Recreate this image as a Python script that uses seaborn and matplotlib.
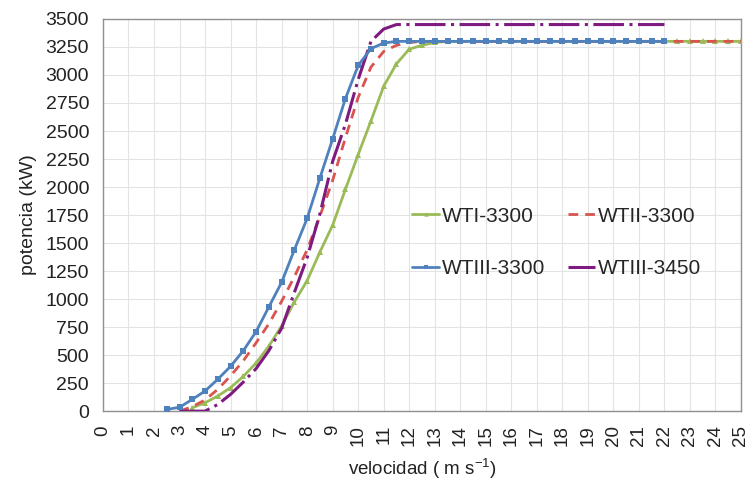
import numpy as np
import pandas as pd
import matplotlib
matplotlib.use("Agg")
import matplotlib.pyplot as plt
import seaborn as sns

# ---- data ----
v_wt1 = [3.5, 4.0, 4.5, 5.0, 5.5, 6.0, 6.5, 7.0, 7.5, 8.0, 8.5, 9.0, 9.5, 10.0, 10.5, 11.0,
         11.5, 12.0, 12.5, 13.0, 13.5, 14.0, 14.5, 15.0, 15.5, 16.0, 16.5, 17.0, 17.5, 18.0,
         18.5, 19.0, 19.5, 20.0, 20.5, 21.0, 21.5, 22.0, 22.5, 23.0, 23.5, 24.0, 24.5, 25.0]
p_wt1 = [30, 75, 135, 210, 310, 430, 580, 760, 975, 1165, 1420, 1660, 1980, 2290, 2590, 2900,
         3100, 3230, 3265, 3290, 3300, 3300, 3300, 3300, 3300, 3300, 3300, 3300, 3300, 3300,
         3300, 3300, 3300, 3300, 3300, 3300, 3300, 3300, 3300, 3300, 3300, 3300, 3300, 3300]

v_wt2 = [3.0, 3.5, 4.0, 4.5, 5.0, 5.5, 6.0, 6.5, 7.0, 7.5, 8.0, 8.5, 9.0, 9.5, 10.0, 10.5,
         11.0, 11.5, 12.0, 12.5, 13.0, 14.0, 15.0, 16.0, 17.0, 18.0, 19.0, 20.0, 21.0, 22.0,
         23.0, 24.0, 25.0]
p_wt2 = [0, 40, 100, 195, 315, 450, 610, 780, 980, 1200, 1440, 1740, 2060, 2440, 2800, 3070,
         3210, 3265, 3290, 3300, 3300, 3300, 3300, 3300, 3300, 3300, 3300, 3300, 3300, 3300,
         3300, 3300, 3300]

v_wt3 = [2.5, 3.0, 3.5, 4.0, 4.5, 5.0, 5.5, 6.0, 6.5, 7.0, 7.5, 8.0, 8.5, 9.0, 9.5, 10.0,
         10.5, 11.0, 11.5, 12.0, 12.5, 13.0, 13.5, 14.0, 14.5, 15.0, 15.5, 16.0, 16.5, 17.0,
         17.5, 18.0, 18.5, 19.0, 19.5, 20.0, 20.5, 21.0, 21.5, 22.0]
p_wt3 = [15, 35, 105, 180, 285, 400, 540, 710, 930, 1150, 1440, 1720, 2080, 2430, 2790, 3085,
         3235, 3285, 3300, 3300, 3300, 3300, 3300, 3300, 3300, 3300, 3300, 3300, 3300, 3300,
         3300, 3300, 3300, 3300, 3300, 3300, 3300, 3300, 3300, 3300]

v_wt4 = [3.0, 3.5, 4.0, 4.5, 5.0, 5.5, 6.0, 6.5, 7.0, 7.5, 8.0, 8.5, 9.0, 9.5, 10.0, 10.5,
         11.0, 11.5, 12.0, 13.0, 14.0, 15.0, 16.0, 17.0, 18.0, 19.0, 20.0, 21.0, 22.0]
p_wt4 = [0, 0, 0, 60, 150, 260, 380, 540, 740, 1060, 1370, 1760, 2230, 2560, 2960, 3300,
         3410, 3450, 3450, 3450, 3450, 3450, 3450, 3450, 3450, 3450, 3450, 3450, 3450]

names = ["WTI-3300", "WTII-3300", "WTIII-3300", "WTIII-3450"]
x_ticks = list(range(0, 26))
y_ticks = list(range(0, 3501, 250))

# ---- style ----
sns.set_theme(style="white")
plt.rcParams['font.family'] = ['Liberation Sans', 'DejaVu Sans']
plt.rcParams['mathtext.fontset'] = 'custom'
plt.rcParams['mathtext.rm'] = 'Liberation Sans'
plt.rcParams['mathtext.it'] = 'Liberation Sans'

fig = plt.figure(figsize=(7.5, 4.86), dpi=100)
ax = fig.add_axes([0.1373, 0.154, 0.988 - 0.1373, 0.961 - 0.154])

c_green = "#9BBB59"
c_red = "#D9534F"
c_blue = "#4F81BD"
c_purple = "#7E1A80"

d1 = pd.DataFrame({"v": v_wt1, "p": p_wt1})
d2 = pd.DataFrame({"v": v_wt2, "p": p_wt2})
d3 = pd.DataFrame({"v": v_wt3, "p": p_wt3})
d4 = pd.DataFrame({"v": v_wt4, "p": p_wt4})

sns.lineplot(data=d1, x="v", y="p", ax=ax, color=c_green, lw=2.0, marker="^",
             markersize=4.5, markeredgewidth=0, label=names[0], zorder=3)
sns.lineplot(data=d3, x="v", y="p", ax=ax, color=c_blue, lw=2.0, marker="s",
             markersize=5, markeredgewidth=0, label=names[2], zorder=4)
sns.lineplot(data=d2, x="v", y="p", ax=ax, color=c_red, lw=2.0, label=names[1], zorder=3)
ax.lines[-1].set_dashes((3.5, 2.5))
sns.lineplot(data=d4, x="v", y="p", ax=ax, color=c_purple, lw=2.2, label=names[3], zorder=3)
ax.lines[-1].set_dashes((10, 1.8, 1, 1.8))

ax.set_xlim(0, 25)
ax.set_ylim(0, 3500)
ax.set_xticks(x_ticks)
ax.set_xticklabels([str(t) for t in x_ticks], rotation=90, fontsize=13.5)
ax.set_yticks(y_ticks)
ax.set_yticklabels([str(t) for t in y_ticks], fontsize=14)
ax.tick_params(axis="both", which="both", length=5, width=0.8, color="#A6A6A6",
               direction="out", pad=5, labelcolor="#222222")
ax.tick_params(axis="y", pad=5)
ax.grid(True, color="#E3E3E3", lw=0.8)
ax.set_axisbelow(True)
for s in ax.spines.values():
    s.set_color("#909090")
    s.set_linewidth(1.0)
    s.set_visible(True)

ax.set_xlabel("velocidad ( m s$^{-1}$)", fontsize=13.5, color="#222222", labelpad=8)
ax.set_ylabel("potencia (kW)", fontsize=14, color="#222222", labelpad=6)

h, l = ax.get_legend_handles_labels()
hd = dict(zip(l, h))
leg = ax.legend([hd[names[0]], hd[names[2]], hd[names[1]], hd[names[3]]],
                [names[0], names[2], names[1], names[3]],
                ncol=2, frameon=False, fontsize=15, loc="upper left",
                bbox_to_anchor=(0.455, 0.569), handlelength=1.3, handletextpad=0.15,
                columnspacing=1.06, labelspacing=1.6, markerscale=0.7)

fig.savefig("out.png", dpi=100)
